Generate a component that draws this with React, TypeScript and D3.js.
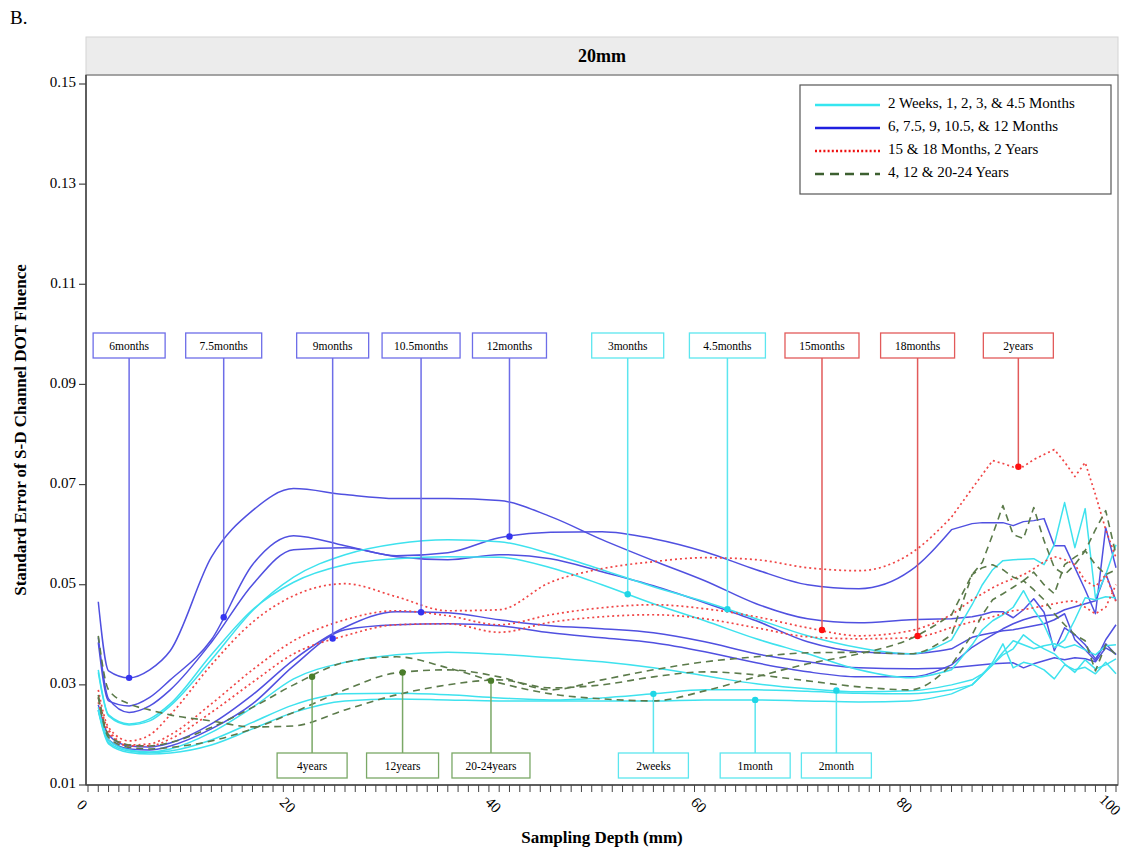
import React from 'react';
import * as d3 from 'd3';

// sampling depth (mm) shared by every curve
const depth = [1, 2, 4, 6, 8, 12, 16, 20, 25, 30, 35, 40, 45, 50, 55, 60, 65, 70, 75, 80, 84, 86, 87, 88, 89, 90, 91, 92, 93, 94, 95, 96, 97, 98, 99, 100];
// past this depth the curves are plain polylines
const JAGGED_FROM = 84;

// 2 weeks .. 4.5 months (cyan)
const cyan2weeks = [.0250, .0185, .0168, .0165, .0168, .0190, .0225, .0260, .0282, .0283, .0280, .0274, .0270, .0274, .0282, .0290, .0290, .0287, .0283, .0282, .0290, .0300, .0320, .0345, .0382, .0334, .0345, .0340, .0330, .0312, .0340, .0330, .0335, .0322, .0345, .0322];
const cyan1month = [.0248, .0182, .0165, .0162, .0164, .0180, .0212, .0245, .0268, .0272, .0270, .0268, .0268, .0268, .0268, .0270, .0270, .0268, .0266, .0268, .0282, .0300, .0320, .0340, .0360, .0372, .0400, .0384, .0372, .0362, .0342, .0325, .0350, .0332, .0340, .0352];
const cyan2month = [.0255, .0190, .0170, .0166, .0172, .0205, .0255, .0312, .0345, .0360, .0365, .0361, .0354, .0346, .0334, .0318, .0302, .0292, .0286, .0288, .0300, .0310, .0322, .0340, .0365, .0388, .0380, .0372, .0378, .0382, .0374, .0380, .0370, .0360, .0378, .0380];
const cyan3month = [.0330, .0240, .0222, .0232, .0262, .0360, .0450, .0505, .0540, .0552, .0556, .0555, .0534, .0500, .0462, .0428, .0392, .0362, .0330, .0314, .0330, .0380, .0410, .0428, .0440, .0455, .0488, .0450, .0420, .0374, .0390, .0430, .0474, .0470, .0476, .0474];
const cyan45month = [.0325, .0238, .0220, .0228, .0258, .0350, .0448, .0515, .0560, .0582, .0590, .0586, .0562, .0530, .0496, .0466, .0432, .0398, .0374, .0362, .0390, .0460, .0500, .0530, .0548, .0550, .0551, .0552, .0540, .0580, .0664, .0574, .0652, .0474, .0520, .0580];

// 6 .. 12 months (blue)
const blue6m = [.0466, .0328, .0314, .0330, .0368, .0555, .0648, .0692, .0680, .0672, .0672, .0668, .0636, .0590, .0548, .0508, .0462, .0432, .0424, .0430, .0432, .0436, .0440, .0446, .0446, .0434, .0450, .0472, .0445, .0368, .0414, .0400, .0380, .0352, .0382, .0360];
const blue75m = [.0385, .0268, .0258, .0275, .0310, .0390, .0540, .0598, .0578, .0556, .0550, .0560, .0552, .0526, .0498, .0464, .0428, .0386, .0366, .0362, .0372, .0395, .0400, .0404, .0408, .0410, .0414, .0418, .0422, .0430, .0442, .0390, .0370, .0348, .0390, .0420];
const blue9m = [.0250, .0190, .0172, .0170, .0178, .0212, .0262, .0338, .0410, .0420, .0422, .0418, .0404, .0394, .0384, .0366, .0344, .0326, .0316, .0316, .0340, .0375, .0388, .0400, .0412, .0422, .0430, .0436, .0438, .0440, .0450, .0456, .0462, .0468, .0522, .0468];
const blue105m = [.0260, .0200, .0178, .0176, .0184, .0222, .0280, .0350, .0415, .0446, .0444, .0430, .0418, .0412, .0404, .0386, .0362, .0346, .0334, .0332, .0334, .0338, .0340, .0342, .0343, .0344, .0334, .0342, .0348, .0354, .0350, .0354, .0352, .0346, .0374, .0362];
const blue12m = [.0395, .0272, .0245, .0258, .0290, .0385, .0500, .0570, .0574, .0558, .0564, .0594, .0605, .0606, .0592, .0566, .0530, .0500, .0492, .0528, .0610, .0622, .0624, .0624, .0624, .0618, .0626, .0628, .0632, .0578, .0578, .0534, .0490, .0442, .0614, .0534];

// 15, 18 months, 2 years (red dotted)
const red15m = [.0275, .0210, .0180, .0182, .0200, .0262, .0330, .0388, .0430, .0448, .0438, .0420, .0440, .0454, .0460, .0452, .0436, .0414, .0398, .0408, .0440, .0470, .0482, .0494, .0504, .0512, .0520, .0532, .0546, .0556, .0550, .0540, .0508, .0496, .0520, .0466];
const red18m = [.0265, .0205, .0178, .0178, .0192, .0245, .0305, .0362, .0398, .0420, .0422, .0405, .0425, .0436, .0440, .0432, .0414, .0396, .0392, .0394, .0415, .0426, .0430, .0436, .0442, .0448, .0450, .0454, .0458, .0462, .0466, .0468, .0455, .0442, .0455, .0500];
const red2y = [.0290, .0215, .0188, .0200, .0240, .0340, .0425, .0478, .0502, .0476, .0448, .0450, .0505, .0532, .0546, .0554, .0550, .0534, .0528, .0562, .0635, .0692, .0720, .0748, .0742, .0735, .0736, .0750, .0760, .0770, .0745, .0716, .0744, .0680, .0610, .0554];

// 4, 12, 20-24 years (green dashed)
const green4y = [.0280, .0200, .0180, .0178, .0185, .0215, .0255, .0300, .0345, .0356, .0334, .0304, .0282, .0272, .0268, .0288, .0316, .0342, .0362, .0392, .0440, .0520, .0545, .0600, .0658, .0600, .0592, .0654, .0588, .0534, .0520, .0540, .0568, .0610, .0648, .0560];
const green12y = [.0275, .0195, .0175, .0172, .0175, .0188, .0212, .0245, .0290, .0324, .0330, .0316, .0290, .0310, .0330, .0346, .0356, .0364, .0365, .0362, .0400, .0520, .0534, .0540, .0530, .0515, .0508, .0525, .0500, .0482, .0540, .0555, .0568, .0540, .0520, .0530];
const green20y = [.0398, .0290, .0262, .0250, .0240, .0228, .0216, .0218, .0250, .0280, .0300, .0310, .0294, .0300, .0316, .0326, .0320, .0308, .0296, .0290, .0340, .0400, .0440, .0470, .0482, .0495, .0508, .0490, .0470, .0442, .0420, .0400, .0388, .0328, .0380, .0360];

const yTicks = [0.01, 0.03, 0.05, 0.07, 0.09, 0.11, 0.13, 0.15];
const xLabels = [0, 20, 40, 60, 80, 100];

const legendLabels = [
    ['cyan', '2 Weeks, 1, 2, 3, & 4.5 Months'],
    ['blue', '6, 7.5, 9, 10.5, & 12 Months'],
    ['red', '15 & 18 Months, 2 Years'],
    ['green', '4, 12 & 20-24 Years'],
];

const series = [
    { key: 'm6', group: 'blue', values: blue6m },
    { key: 'm75', group: 'blue', values: blue75m },
    { key: 'm9', group: 'blue', values: blue9m },
    { key: 'm105', group: 'blue', values: blue105m },
    { key: 'm12', group: 'blue', values: blue12m },
    { key: 'w2', group: 'cyan', values: cyan2weeks },
    { key: 'mo1', group: 'cyan', values: cyan1month },
    { key: 'mo2', group: 'cyan', values: cyan2month },
    { key: 'mo3', group: 'cyan', values: cyan3month },
    { key: 'mo45', group: 'cyan', values: cyan45month },
    { key: 'm15', group: 'red', values: red15m },
    { key: 'm18', group: 'red', values: red18m },
    { key: 'y2', group: 'red', values: red2y },
    { key: 'y4', group: 'green', values: green4y },
    { key: 'y12', group: 'green', values: green12y },
    { key: 'y20', group: 'green', values: green20y },
];

// label boxes above the curves
const topCallouts = [
    { label: '6months', key: 'm6', at: 4 },
    { label: '7.5months', key: 'm75', at: 13.2 },
    { label: '9months', key: 'm9', at: 23.8 },
    { label: '10.5months', key: 'm105', at: 32.4 },
    { label: '12months', key: 'm12', at: 41 },
    { label: '3months', key: 'mo3', at: 52.5 },
    { label: '4.5months', key: 'mo45', at: 62.2 },
    { label: '15months', key: 'm15', at: 71.4 },
    { label: '18months', key: 'm18', at: 80.7 },
    { label: '2years', key: 'y2', at: 90.5 },
];
// label boxes below the curves
const bottomCallouts = [
    { label: '4years', key: 'y4', at: 21.8 },
    { label: '12years', key: 'y12', at: 30.6 },
    { label: '20-24years', key: 'y20', at: 39.2 },
    { label: '2weeks', key: 'w2', at: 55 },
    { label: '1month', key: 'mo1', at: 64.9 },
    { label: '2month', key: 'mo2', at: 72.8 },
];

const styles = {
    cyan: { stroke: '#3ee2ee', dash: null, width: 1.5, box: '#5ce6ef', dot: '#1fd6e6' },
    blue: { stroke: '#5050e0', dash: null, width: 1.5, box: '#6d6de8', dot: '#3434f0' },
    red: { stroke: '#f04545', dash: '2,3', width: 1.7, box: '#e25a5a', dot: '#ff1010' },
    green: { stroke: '#5b7a4a', dash: '7,5', width: 1.6, box: '#7aa866', dot: '#4a7d2a' },
};

const legendStyles = {
    cyan: { stroke: '#35e6f0', dash: null },
    blue: { stroke: '#2020e0', dash: null },
    red: { stroke: '#ee1111', dash: '2,2.2' },
    green: { stroke: '#3d6030', dash: '9,6' },
};

const FONT = '"Liberation Serif", "Times New Roman", serif';

export default function App() {
    const width = 1142, height = 853;
    const left = 86, right = 1118, top = 75, bottom = 785;

    const x = d3.scaleLinear().domain([0, 100]).range([88, 1116]);
    const y = d3.scaleLinear().domain([0.01, 0.15]).range([bottom, 84]);

    const pts = (values: number[]) => values.map((v, i) => [depth[i], v] as [number, number]);
    const smooth = d3.line<[number, number]>()
        .x(d => x(d[0])).y(d => y(d[1]))
        .curve(d3.curveMonotoneX);
    const straight = d3.line<[number, number]>()
        .x(d => x(d[0])).y(d => y(d[1]));

    // smooth up to JAGGED_FROM, polyline after
    const curvePath = (values: number[]) => {
        const p = pts(values);
        const a = p.filter(d => d[0] <= JAGGED_FROM);
        const b = p.filter(d => d[0] >= JAGGED_FROM);
        return (smooth(a) || '') + (straight(b) || '').replace(/^M/, 'L');
    };

    const byKey: Record<string, any> = {};
    series.forEach(s => { byKey[s.key] = s; });

    // value of a curve at an arbitrary depth
    const valueAt = (key: string, at: number) =>
        d3.scaleLinear().domain(depth).range(byKey[key].values)(at);

    const boxW = (label: string) => 58 + label.length * 2;
    const topBoxY = 333, bottomBoxY = 753, boxH = 25;

    const drawOrder = ['blue', 'cyan', 'red', 'green'];

    const callout = (c: any, above: boolean) => {
        const st = (styles as any)[byKey[c.key].group];
        const cx = x(c.at), cy = y(valueAt(c.key, c.at)), w = boxW(c.label);
        const by = above ? topBoxY : bottomBoxY;
        return (
            <g key={c.label}>
                <line x1={cx} x2={cx} y1={above ? by + boxH : by} y2={cy} stroke={st.box} strokeWidth={1.5} />
                <rect x={cx - w / 2} y={by} width={w} height={boxH} fill="#fff" stroke={st.box} strokeWidth={1.3} />
                <text x={cx} y={by + boxH / 2 + 4} textAnchor="middle" fontSize={11.5}>{c.label}</text>
                <circle cx={cx} cy={cy} r={3.2} fill={st.dot} />
            </g>
        );
    };

    return (
        <svg width={width} height={height} style={{ position: 'absolute', left: 0, top: 0, background: '#fff' }}
            fontFamily={FONT}>
            <text x={10} y={24} fontSize={19}>B.</text>

            {/* panel header */}
            <rect x={left} y={37} width={right - left} height={top - 37} fill="#ececec" stroke="#d4d4d4" />
            <text x={(left + right) / 2} y={62} textAnchor="middle" fontSize={18} fontWeight="bold">20mm</text>

            {/* curves */}
            {drawOrder.map(g => series.filter(s => s.group === g).map(s => {
                const st = (styles as any)[g];
                return (
                    <path key={s.key} d={curvePath(s.values)} fill="none" stroke={st.stroke}
                        strokeWidth={st.width} strokeDasharray={st.dash || undefined} strokeLinejoin="round" />
                );
            }))}

            {/* callouts */}
            {topCallouts.map(c => callout(c, true))}
            {bottomCallouts.map(c => callout(c, false))}

            {/* frame */}
            <rect x={left} y={top} width={right - left} height={bottom - top} fill="none" stroke="#777" strokeWidth={1.2} />
            <line x1={left} x2={left} y1={top} y2={bottom} stroke="#444" strokeWidth={1.5} />
            <line x1={left} x2={right} y1={bottom} y2={bottom} stroke="#444" strokeWidth={1.5} />

            {/* y axis */}
            {yTicks.map(t => (
                <g key={t}>
                    <line x1={left - 7} x2={left} y1={y(t)} y2={y(t)} stroke="#444" strokeWidth={1.2} />
                    <text x={left - 10} y={y(t)} textAnchor="end" dominantBaseline="middle" fontSize={15}>{t.toFixed(2)}</text>
                </g>
            ))}
            <text transform={`translate(26,${(top + bottom) / 2}) rotate(-90)`} textAnchor="middle" fontSize={17} fontWeight="bold">
                Standard Error of S-D Channel DOT Fluence
            </text>

            {/* x axis */}
            {d3.range(0, 101).map(t => (
                <line key={t} x1={x(t)} x2={x(t)} y1={bottom} y2={bottom + 7} stroke="#444" strokeWidth={1} />
            ))}
            {xLabels.map(t => (
                <text key={t} transform={`translate(${x(t) - 7},${806}) rotate(45)`} textAnchor="middle"
                    dominantBaseline="middle" fontSize={15}>{t}</text>
            ))}
            <text x={(left + right) / 2} y={843} textAnchor="middle" fontSize={17} fontWeight="bold">Sampling Depth (mm)</text>

            {/* legend */}
            <rect x={800} y={85} width={311} height={109} fill="#fff" stroke="#555" strokeWidth={1.2} />
            {legendLabels.map(([g, label], i) => {
                const st = (legendStyles as any)[g];
                const ly = 105 + i * 23;
                return (
                    <g key={label}>
                        <line x1={815} x2={880} y1={ly} y2={ly} stroke={st.stroke} strokeWidth={2.5}
                            strokeDasharray={st.dash || undefined} />
                        <text x={888} y={ly} dominantBaseline="middle" fontSize={15}>{label}</text>
                    </g>
                );
            })}
        </svg>
    );
}
